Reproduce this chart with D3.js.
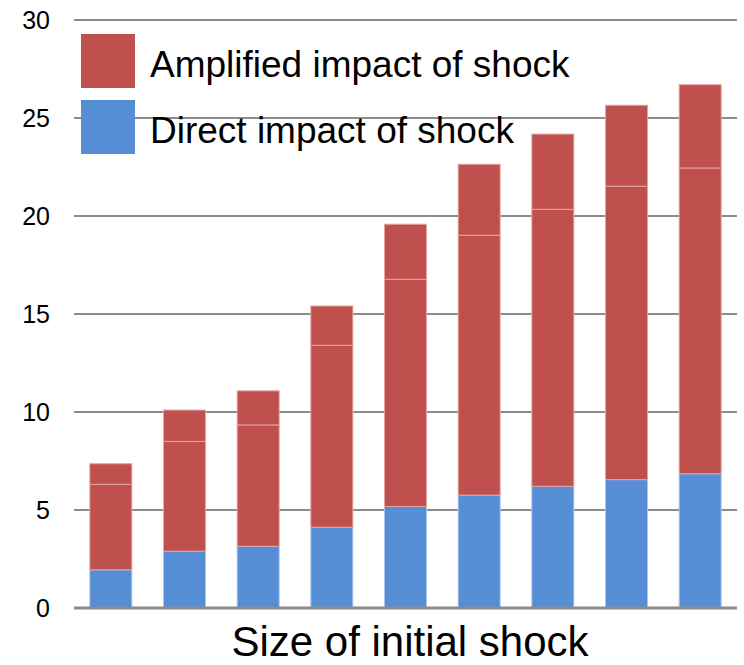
<!DOCTYPE html>
<html>
<head>
<meta charset="utf-8">
<script src="https://cdn.jsdelivr.net/npm/d3@7"></script>
<style>
  html, body { margin: 0; padding: 0; background: #fff; }
  svg { display: block; font-family: "Liberation Sans", Arial, sans-serif; }
</style>
</head>
<body>
<svg id="chart" width="744" height="665"></svg>
<script>
// Shock sizes (unlabelled categories along the x axis)
const categories = ["1", "2", "3", "4", "5", "6", "7", "8", "9"];
// Direct impact of the initial shock
const direct = [1.95, 2.9, 3.15, 4.12, 5.18, 5.76, 6.21, 6.55, 6.85];
// Amplified impact, first and second rounds
const amplifiedFirst = [4.36, 5.6, 6.19, 9.28, 11.59, 13.26, 14.13, 14.97, 15.6];
const amplifiedSecond = [1.05, 1.6, 1.74, 2.01, 2.81, 3.62, 3.84, 4.13, 4.25];
const yTicks = [0, 5, 10, 15, 20, 25, 30];
const legendLabels = ["Amplified impact of shock", "Direct impact of shock"];

const red = "#C0504D", blue = "#558ED5";

const svg = d3.select("#chart");
const margin = { left: 74, right: 7, top: 20, bottom: 57 };
const W = 744, H = 665;

const x = d3.scaleBand()
  .domain(categories)
  .range([margin.left, W - margin.right])
  .paddingInner(0.43)
  .paddingOuter(0.215);

const y = d3.scaleLinear().domain([0, 30]).range([H - margin.bottom, margin.top]);

// Gridlines
svg.append("g")
  .selectAll("line")
  .data(yTicks.filter(d => d > 0))
  .join("line")
  .attr("x1", margin.left).attr("x2", W - margin.right)
  .attr("y1", d => y(d)).attr("y2", d => y(d))
  .attr("stroke", "#8c8c8c").attr("stroke-width", 2);

// Y axis labels
const yAxis = svg.append("g")
  .attr("transform", `translate(${margin.left},0)`)
  .call(d3.axisLeft(y).tickValues(yTicks).tickSize(0).tickPadding(24).tickFormat(d3.format("d")));
yAxis.select(".domain").remove();
yAxis.selectAll("text")
  .attr("font-size", 25)
  .attr("fill", "#000")
  .attr("font-family", "\"Liberation Sans\", Arial, sans-serif");

// Stacked bars
const rows = categories.map((c, i) => ({
  cat: c, direct: direct[i], first: amplifiedFirst[i], second: amplifiedSecond[i]
}));
const keys = ["direct", "first", "second"];
const fills = { direct: blue, first: red, second: red };
const strokes = { direct: "#a9c6ee", first: "#e3a4a2", second: "#e3a4a2" };
const stack = d3.stack().keys(keys)(rows);

svg.append("g")
  .selectAll("g")
  .data(stack)
  .join("g")
  .attr("fill", d => fills[d.key])
  .attr("stroke", d => strokes[d.key])
  .attr("stroke-width", 1)
  .selectAll("rect")
  .data(d => d)
  .join("rect")
  .attr("x", d => x(d.data.cat))
  .attr("width", x.bandwidth())
  .attr("y", d => y(d[1]))
  .attr("height", d => y(d[0]) - y(d[1]));

// Baseline
svg.append("line")
  .attr("x1", margin.left).attr("x2", W - margin.right)
  .attr("y1", y(0)).attr("y2", y(0))
  .attr("stroke", "#8c8c8c").attr("stroke-width", 3);

// Legend
const legend = svg.append("g");
const legendColors = [red, blue];
legendLabels.forEach((label, i) => {
  const g = legend.append("g").attr("transform", `translate(81, ${34 + i * 66})`);
  g.append("rect").attr("width", 54).attr("height", 54).attr("fill", legendColors[i]);
  g.append("text")
    .attr("x", 69).attr("y", 43)
    .attr("font-size", 37)
    .attr("fill", "#000")
    .text(label);
});

// X axis title
svg.append("text")
  .attr("x", 410).attr("y", 656)
  .attr("text-anchor", "middle")
  .attr("font-size", 42)
  .attr("fill", "#000")
  .text("Size of initial shock");
</script>
</body>
</html>
